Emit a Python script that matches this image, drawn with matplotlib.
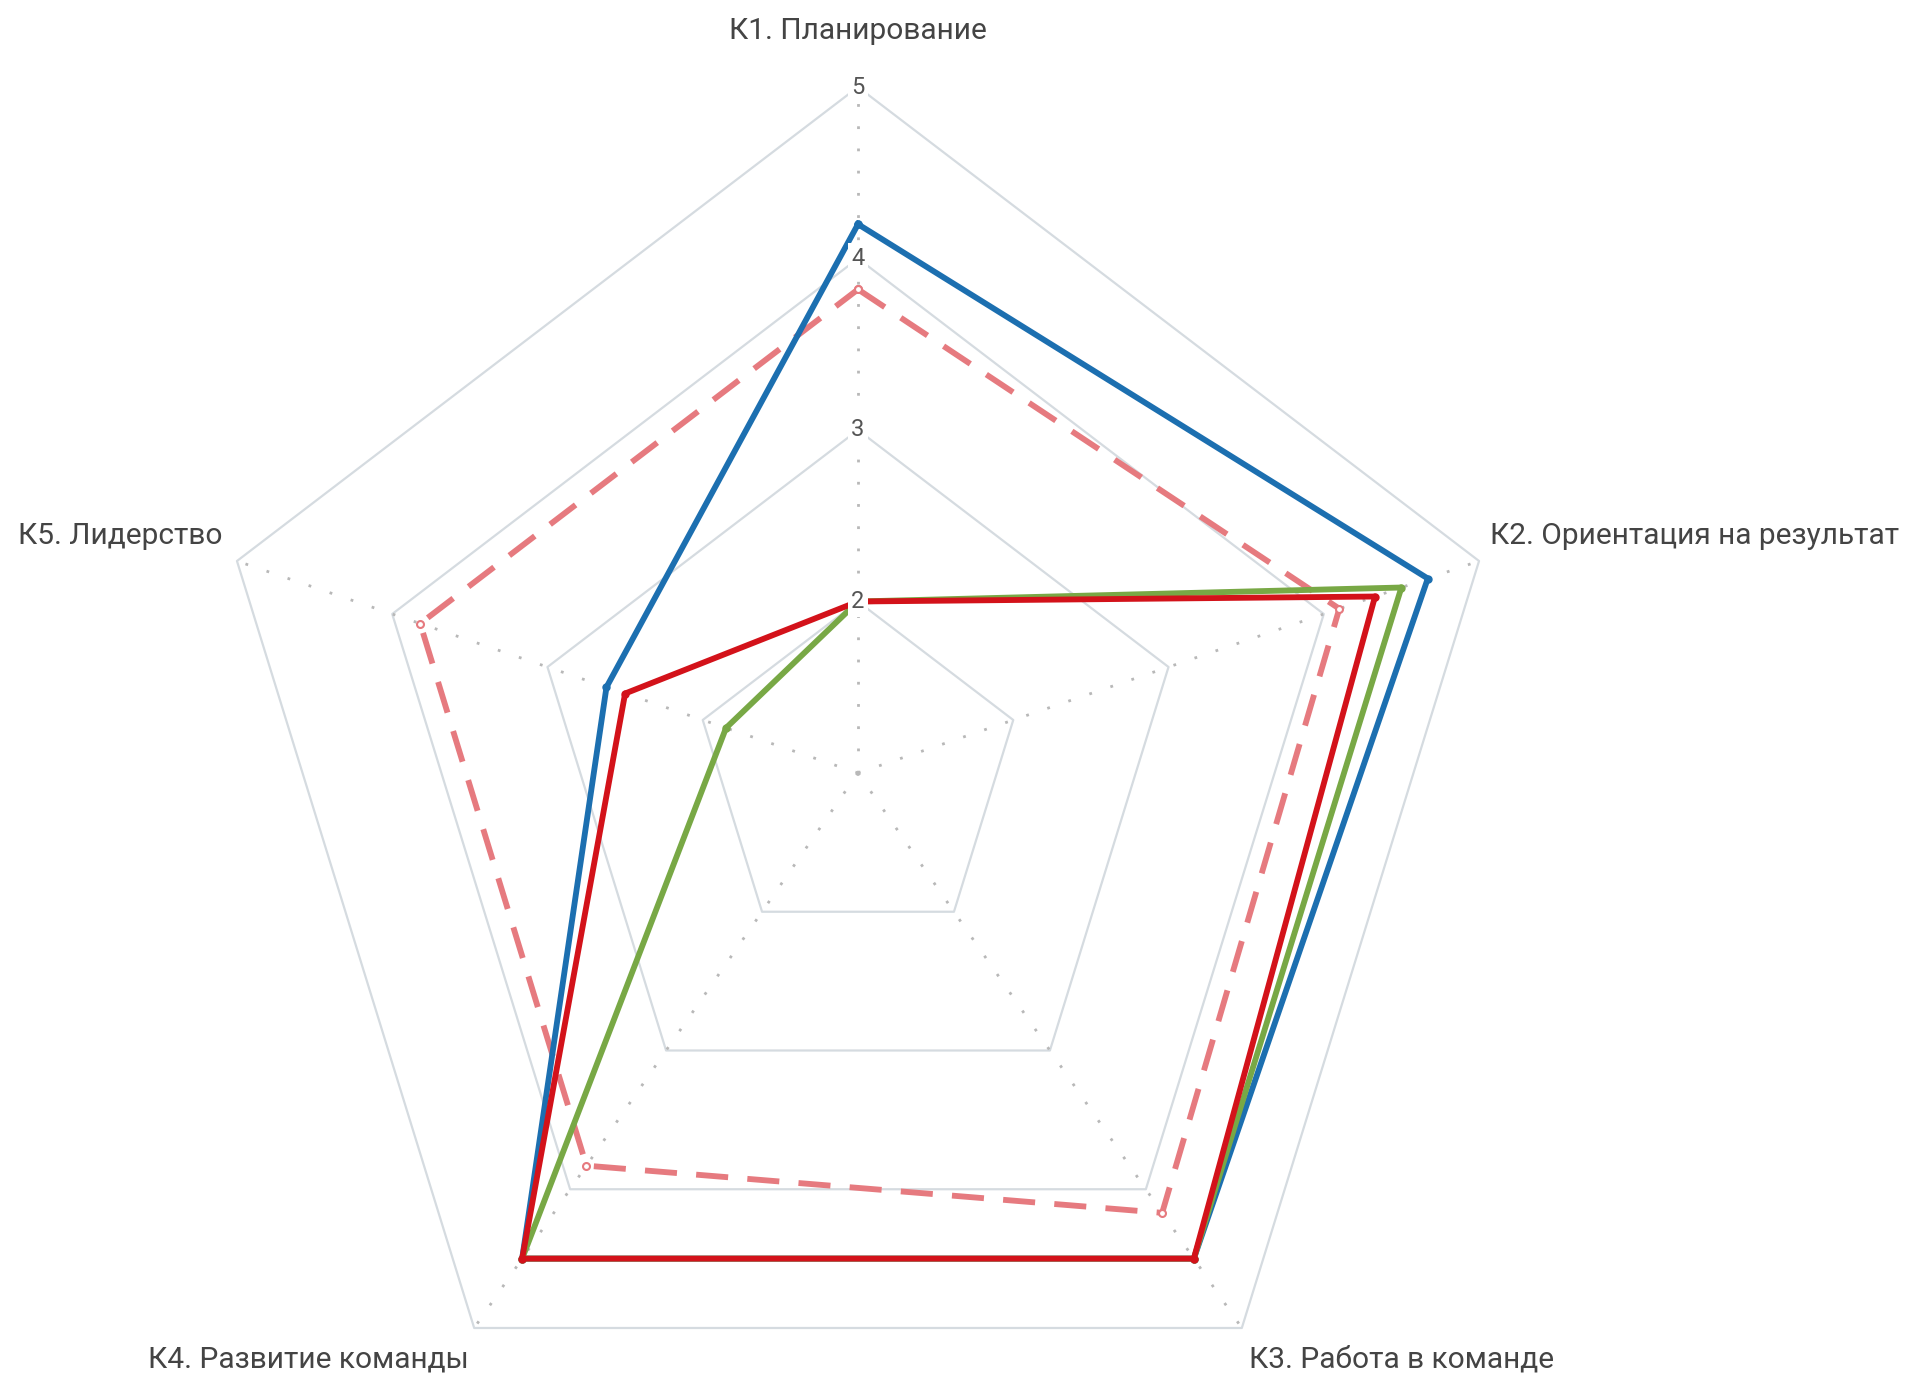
import numpy as np
import matplotlib
matplotlib.use("Agg")
import matplotlib.pyplot as plt

plt.rcParams['font.family'] = ['Roboto', 'DejaVu Sans']

# competencies, clockwise from the top
categories = ["К1. Планирование", "К2. Ориентация на результат", "К3. Работа в команде",
              "К4. Развитие команды", "К5. Лидерство"]
blue = [4.2, 4.67, 4.5, 4.5, 2.62]
green = [2.0, 4.5, 4.5, 4.5, 1.85]
red = [2.0, 4.33, 4.5, 4.5, 2.5]
target = [3.82, 4.1, 4.17, 3.83, 3.82]   # dashed profile
ticks = [2, 3, 4, 5]
r_min, r_max = 1, 5

W, H = 1916, 1379
CX, CY = 858, 773            # centre of the web, pixels
SX, SY = 163.25, 171.5       # pixels per scale unit (picture is a bit stretched vertically)

ang = np.deg2rad(90 - 72 * np.arange(len(categories)))


def xy(vals):
    r = np.asarray(vals, float) - r_min
    x = np.append(r * np.cos(ang), r[0] * np.cos(ang[0]))
    y = np.append(r * np.sin(ang), r[0] * np.sin(ang[0]))
    return x, y


fig = plt.figure(figsize=(W / 100, H / 100), dpi=100)
ax = fig.add_axes([0, 0, 1, 1])
ax.set_xlim(-CX / SX, (W - CX) / SX)
ax.set_ylim(-(H - CY) / SY, CY / SY)
ax.axis("off")

# grid rings + spokes
for t in ticks:
    gx, gy = xy([t] * len(categories))
    ax.plot(gx, gy, color="#d5dbe0", lw=1.6, zorder=1)
R = r_max - r_min
for a in ang:
    ax.plot([0, R * np.cos(a)], [0, R * np.sin(a)], color="#b8b8b8", lw=2.0,
            ls=(0, (1, 7)), zorder=1)

# series
x, y = xy(target)
ax.plot(x, y, color="#e67a7f", lw=4.2, dashes=(5.5, 3.3), marker="o", ms=5,
        mfc="white", mec="#e67a7f", mew=1.5, zorder=2)
for vals, col in [(blue, "#1c6fb0"), (green, "#78a845"), (red, "#d3121a")]:
    x, y = xy(vals)
    ax.plot(x, y, color=col, lw=4.2, marker="o", ms=5, zorder=3)

# tick labels on the top spoke
for t in ticks:
    ax.text(0, t - r_min, str(t), ha="center", va="center", fontsize=17, color="#555555",
            zorder=5, bbox=dict(boxstyle="square,pad=0.15", fc="white", ec="none"))

# category labels
offs = [(0, 56, "center", "center"), (11, 25, "left", "center"), (7, -32, "left", "center"),
        (-5, -32, "right", "center"), (-14, 25, "right", "center")]
for a, lab, (dx, dy, ha, va) in zip(ang, categories, offs):
    ax.annotate(lab, (R * np.cos(a), R * np.sin(a)), xytext=(dx, dy), textcoords="offset pixels",
                ha=ha, va=va, fontsize=21.5, color="#444444", zorder=5)

fig.savefig("out.png", dpi=100, facecolor="white")
